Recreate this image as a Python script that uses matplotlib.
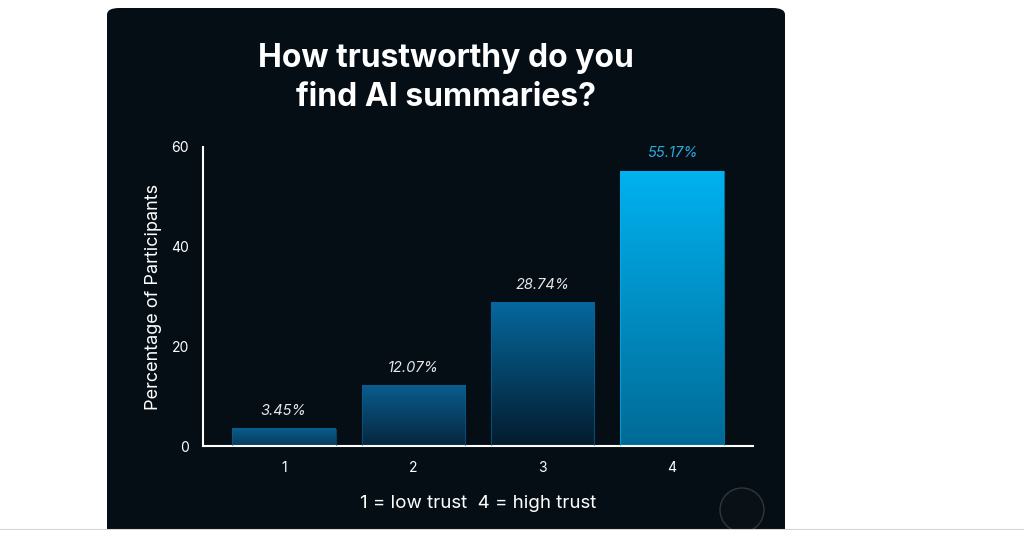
import numpy as np
import matplotlib
matplotlib.use("Agg")
import matplotlib.pyplot as plt
from matplotlib.colors import LinearSegmentedColormap
from matplotlib.patches import FancyBboxPatch, Ellipse, Rectangle

plt.rcParams['font.family'] = ['Inter', 'DejaVu Sans']

# data
categories = [1, 2, 3, 4]
tick_labels = ["1", "2", "3", "4"]
percentages = [3.45, 12.07, 28.74, 55.17]
value_labels = ["3.45%", "12.07%", "28.74%", "55.17%"]

title = "How trustworthy do you\nfind AI summaries?"
ylabel = "Percentage of Participants"
subtitle = "1 = low trust  4 = high trust"

# per-bar gradient (top, bottom)
bar_top = ["#0b5e8e", "#0a5d8f", "#06689e", "#00b2f0"]
bar_bottom = ["#08395a", "#05263c", "#031b2d", "#006a96"]
label_colors = ["#e8e8e8", "#e8e8e8", "#e8e8e8", "#29abe2"]

panel_bg = "#060e15"

fig = plt.figure(figsize=(10.24, 5.43), dpi=100)
fig.patch.set_facecolor("white")

# dark panel
panel = FancyBboxPatch((107 / 1024, -0.05), (785 - 107) / 1024, 1.05 - 8 / 543,
                       boxstyle="round,pad=0,rounding_size=0.012",
                       transform=fig.transFigure, facecolor=panel_bg,
                       edgecolor="none", zorder=-2)
fig.patches.append(panel)
# white strip at bottom with grey border line
fig.patches.append(Rectangle((0, 0), 1, 1 - 530 / 543, transform=fig.transFigure,
                             facecolor="white", edgecolor="none", zorder=-1))
fig.lines.append(plt.Line2D([0, 1], [1 - 530 / 543] * 2, transform=fig.transFigure,
                            color="#d6d6d6", lw=1.5, zorder=-1))

# faint logo circle
fig.patches.append(Ellipse((742 / 1024, 1 - 510 / 543), 44 / 1024, 44 / 543,
                           transform=fig.transFigure, facecolor="#0a1116",
                           edgecolor="#30363b", lw=1, zorder=-1.5))

ax = fig.add_axes([203 / 1024, 1 - 446 / 543, 550 / 1024, 299 / 543])
ax.set_facecolor("none")
ax.set_zorder(3)

width = 0.8
grad = np.linspace(0, 1, 256).reshape(-1, 1)
for x, h, top, bot in zip(categories, percentages, bar_top, bar_bottom):
    cmap = LinearSegmentedColormap.from_list("g", [bot, top])
    ax.imshow(grad, extent=[x - width / 2, x + width / 2, 0, h], origin="lower",
              aspect="auto", cmap=cmap, zorder=2)
    ax.add_patch(Rectangle((x - width / 2, 0), width, h, facecolor="none",
                           edgecolor=top, lw=0.8, alpha=0.6, zorder=3))

for x, h, lab, c in zip(categories, percentages, value_labels, label_colors):
    ax.annotate(lab, (x, h), xytext=(0, 8), textcoords="offset points",
                ha="center", va="bottom", fontsize=10.5, style="italic", color=c)

ax.set_xlim(0.375, 4.625)
ax.set_ylim(0, 60)
ax.set_xticks(categories)
ax.set_xticklabels(tick_labels)
ax.set_yticks([0, 20, 40, 60])
ax.tick_params(colors="white", length=0, labelsize=10)
ax.tick_params(axis="y", pad=10)
ax.tick_params(axis="x", pad=11)
for s in ["top", "right"]:
    ax.spines[s].set_visible(False)
for s in ["left", "bottom"]:
    ax.spines[s].set_color("white")
    ax.spines[s].set_linewidth(1.5)

ax.set_ylabel(ylabel, color="white", fontsize=13)
ax.yaxis.set_label_coords(-0.075, 0.5)

fig.text(446 / 1024, 1 - 78 / 543, title, ha="center", va="center",
         fontsize=23, fontweight="bold", color="white", linespacing=1.33)
fig.text(478 / 1024, 1 - 503 / 543, subtitle, ha="center", va="center",
         fontsize=13.5, color="white")

fig.savefig("out.png", dpi=100)
